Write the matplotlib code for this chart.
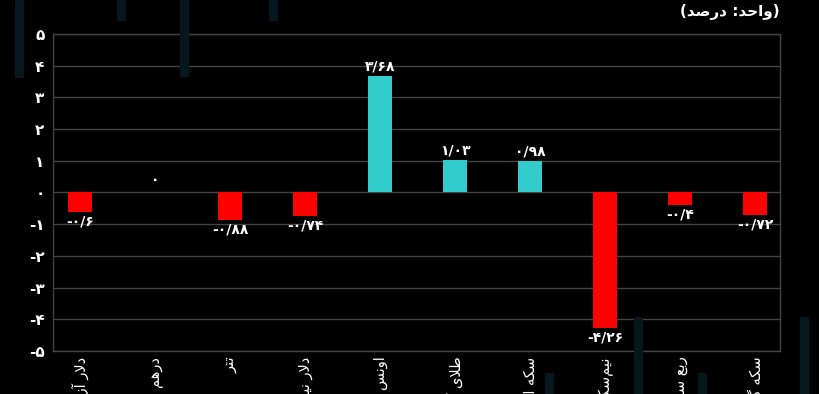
import matplotlib
matplotlib.use("Agg")
import matplotlib.pyplot as plt
from matplotlib.patches import Rectangle

# ---------------- data ----------------
categories = ["دلار آزاد", "درهم", "تتر", "دلار نیمایی", "اونس طلا",
              "طلای آب‌شده", "سکه امامی", "نیم‌سکه", "ربع سکه", "سکه گرمی"]
values = [-0.6, 0.0, -0.88, -0.74, 3.68, 1.03, 0.98, -4.26, -0.4, -0.72]
value_labels = ["-۰/۶", "۰", "-۰/۸۸", "-۰/۷۴", "۳/۶۸", "۱/۰۳", "۰/۹۸", "-۴/۲۶", "-۰/۴", "-۰/۷۲"]
yticks = [5, 4, 3, 2, 1, 0, -1, -2, -3, -4, -5]
ytick_labels = ["۵", "۴", "۳", "۲", "۱", "۰", "-۱", "-۲", "-۳", "-۴", "-۵"]
unit_text = "(واحد: درصد)"

# ---------------- minimal Persian shaping ----------------
FORMS = {
    'ا': ('\uFE8D', '\uFE8E', None, None),
    'آ': ('\uFE81', '\uFE82', None, None),
    'ب': ('\uFE8F', '\uFE90', '\uFE91', '\uFE92'),
    'ت': ('\uFE95', '\uFE96', '\uFE97', '\uFE98'),
    'ح': ('\uFEA1', '\uFEA2', '\uFEA3', '\uFEA4'),
    'د': ('\uFEA9', '\uFEAA', None, None),
    'ر': ('\uFEAD', '\uFEAE', None, None),
    'ز': ('\uFEAF', '\uFEB0', None, None),
    'س': ('\uFEB1', '\uFEB2', '\uFEB3', '\uFEB4'),
    'ش': ('\uFEB5', '\uFEB6', '\uFEB7', '\uFEB8'),
    'ص': ('\uFEB9', '\uFEBA', '\uFEBB', '\uFEBC'),
    'ط': ('\uFEC1', '\uFEC2', '\uFEC3', '\uFEC4'),
    'ع': ('\uFEC9', '\uFECA', '\uFECB', '\uFECC'),
    'ک': ('\uFB8E', '\uFB8F', '\uFB90', '\uFB91'),
    'گ': ('\uFB92', '\uFB93', '\uFB94', '\uFB95'),
    'ل': ('\uFEDD', '\uFEDE', '\uFEDF', '\uFEE0'),
    'م': ('\uFEE1', '\uFEE2', '\uFEE3', '\uFEE4'),
    'ن': ('\uFEE5', '\uFEE6', '\uFEE7', '\uFEE8'),
    'ه': ('\uFEE9', '\uFEEA', '\uFEEB', '\uFEEC'),
    'و': ('\uFEED', '\uFEEE', None, None),
    'ی': ('\uFBFC', '\uFBFD', '\uFBFE', '\uFBFF'),
}
MIRROR = {'(': ')', ')': '('}


def shape(text):
    chars = list(text)
    out = []
    i = 0
    n = len(chars)
    while i < n:
        c = chars[i]
        if c not in FORMS:
            out.append(MIRROR.get(c, c) if c != '\u200c' else '')
            i += 1
            continue
        prev = chars[i - 1] if i > 0 else None
        joins_prev = prev in FORMS and FORMS[prev][2] is not None
        if c == 'ل' and i + 1 < n and chars[i + 1] in ('ا', 'آ'):
            if chars[i + 1] == 'ا':
                out.append('\uFEFC' if joins_prev else '\uFEFB')
            else:
                out.append('\uFEF6' if joins_prev else '\uFEF5')
            i += 2
            continue
        nxt = chars[i + 1] if i + 1 < n else None
        joins_next = FORMS[c][2] is not None and nxt in FORMS
        iso, fin, ini, med = FORMS[c]
        if joins_prev and joins_next:
            out.append(med)
        elif joins_prev:
            out.append(fin)
        elif joins_next:
            out.append(ini)
        else:
            out.append(iso)
        i += 1
    return ''.join(reversed(out))


plt.rcParams['font.family'] = ['DejaVu Sans']

W, H = 820, 394
fig = plt.figure(figsize=(8.2, 3.94), dpi=100, facecolor='black')

# decorative faint background stripes (pixel boxes: x0, y0_top, width, height)
deco_color = '#06171e'
for (x, ytop, w, h) in [(15, 0, 8, 77), (117, 0, 8, 20), (180, 0, 8, 76),
                        (269, 0, 8, 20), (545, 373, 8, 21), (634, 317, 8, 77),
                        (698, 373, 8, 21), (800, 317, 8, 77)]:
    fig.patches.append(Rectangle((x / W, 1 - (ytop + h) / H), w / W, h / H,
                                 transform=fig.transFigure,
                                 color=deco_color, zorder=0))

ax = fig.add_axes([53 / W, 1 - 351 / H, (780 - 53) / W, (351 - 34) / H])
ax.set_facecolor('none')

xs = list(range(len(categories)))
colors = ['#33CCCC' if v > 0 else '#FF0000' for v in values]
ax.bar(xs, values, width=0.32, color=colors, zorder=3)

for x, v, lab in zip(xs, values, value_labels):
    if v > 0:
        ax.text(x, v + 0.08, lab, ha='center', va='bottom', color='white',
                fontsize=10, fontweight='bold', zorder=4)
    elif v < 0:
        ax.text(x, v - 0.08, lab, ha='center', va='top', color='white',
                fontsize=10, fontweight='bold', zorder=4)
    else:
        ax.text(x, 0.18, lab, ha='center', va='bottom', color='white',
                fontsize=10, fontweight='bold', zorder=4)

ax.set_xlim(-0.36, 9.33)
ax.set_ylim(-5, 5)
ax.set_yticks(yticks)
ax.set_yticklabels(ytick_labels, color='white', fontsize=11, fontweight='bold')
ax.tick_params(axis='y', length=0, pad=6)
ax.set_xticks(xs)
ax.set_xticklabels([shape(c) for c in categories], rotation=90, color='white',
                   fontsize=10.5, va='top', ha='center')
ax.tick_params(axis='x', length=0, pad=4)

ax.grid(axis='y', color='#444444', linewidth=1, zorder=1)
for s in ax.spines.values():
    s.set_color('#444444')
    s.set_linewidth(1)

fig.text(780 / W, 1 - 12 / H, shape(unit_text), ha='right', va='center',
         color='white', fontsize=11, fontweight='bold')

fig.savefig('out.png', dpi=100, facecolor='black')
